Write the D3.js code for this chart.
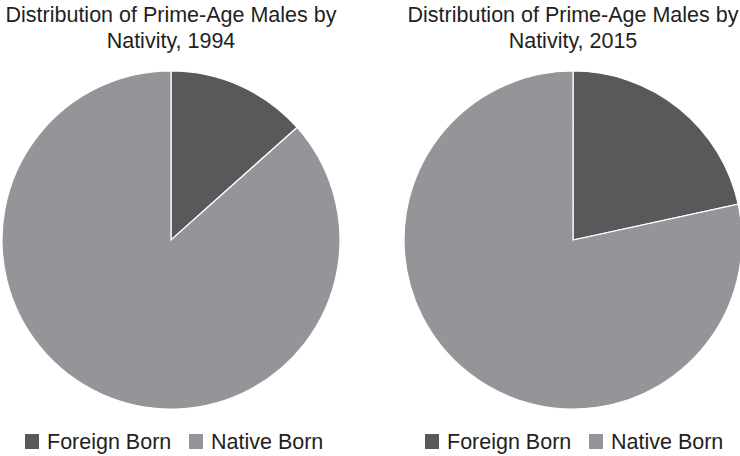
<!DOCTYPE html>
<html><head><meta charset="utf-8">
<script src="https://cdn.jsdelivr.net/npm/d3@7"></script>
<style>body{margin:0;background:#fff}text{font-family:'Liberation Sans',Arial,sans-serif}</style>
</head><body><svg id="c" width="740" height="456"></svg>
<script>
const categories = ["Foreign Born", "Native Born"];
const years = ["1994", "2015"];
const values1994 = [13.4, 86.6];
const values2015 = [21.6, 78.4];
const titles = ["Distribution of Prime-Age Males by|Nativity, 1994", "Distribution of Prime-Age Males by|Nativity, 2015"];
const colors = ["#58595b", "#939598"];

const svg = d3.select("#c");
const color = d3.scaleOrdinal().domain(categories).range(colors);
const pie = d3.pie().sort(null).value(d => d.v);
const arc = d3.arc().innerRadius(0).outerRadius(169);
const FS = 21.5;
const panels = [
  {cx: 171, data: values1994, title: titles[0], legendX: 25},
  {cx: 573, data: values2015, title: titles[1], legendX: 425}
];
panels.forEach(p => {
  const g = svg.append("g").attr("transform", `translate(${p.cx},240)`);
  const d = categories.map((c, i) => ({c, v: p.data[i]}));
  g.selectAll("path").data(pie(d)).join("path")
    .attr("d", arc).attr("fill", s => color(s.data.c))
    .attr("stroke", "#fff").attr("stroke-width", 1.2);
  const lines = p.title.split("|");
  svg.append("text").attr("x", p.cx).attr("y", 22).attr("text-anchor", "middle")
    .attr("font-family", "Liberation Sans, Arial, sans-serif")
    .attr("font-size", FS).attr("fill", "#231f20").text(lines[0]);
  svg.append("text").attr("x", p.cx).attr("y", 48).attr("text-anchor", "middle")
    .attr("font-family", "Liberation Sans, Arial, sans-serif")
    .attr("font-size", FS).attr("fill", "#231f20").text(lines[1]);
  const lg = svg.append("g").attr("transform", `translate(${p.legendX},0)`);
  const offs = [0, 164];
  categories.forEach((c, i) => {
    lg.append("rect").attr("x", offs[i]).attr("y", 434).attr("width", 14).attr("height", 15).attr("fill", color(c));
    lg.append("text").attr("x", offs[i] + 22).attr("y", 449)
      .attr("font-family", "Liberation Sans, Arial, sans-serif")
      .attr("font-size", FS).attr("fill", "#231f20").text(c);
  });
});
</script></body></html>
